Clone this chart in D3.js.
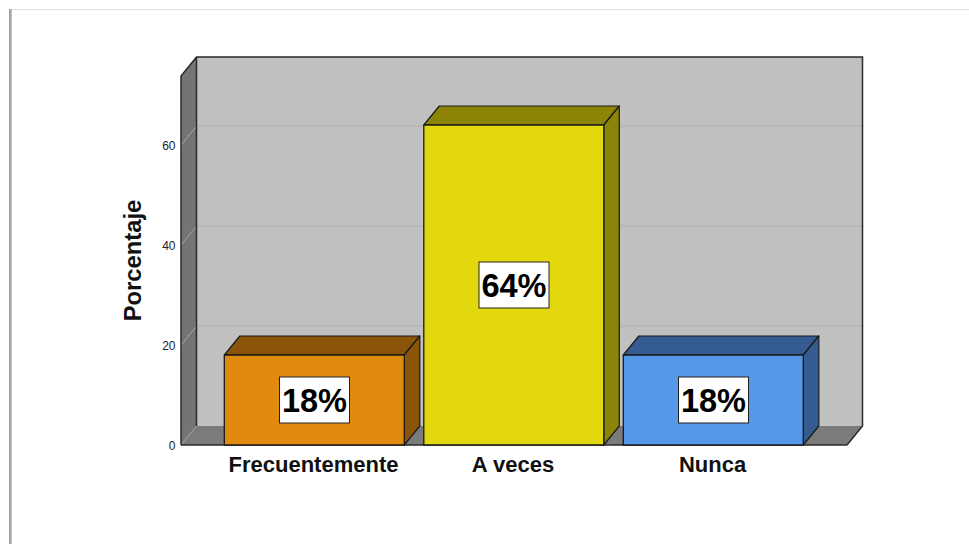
<!DOCTYPE html>
<html><head><meta charset="utf-8">
<script src="https://cdn.jsdelivr.net/npm/d3@7"></script>
<style>html,body{margin:0;padding:0;background:#fff}svg{display:block}text{font-family:"Liberation Sans",Arial,sans-serif}</style>
</head><body><svg id="c" width="969" height="544"></svg>
<script>
const categories = ["Frecuentemente","A veces","Nunca"];
const values = [18,64,18];
const labels = ["18%","64%","18%"];
const frontColors = ["#e08a10","#e3d80d","#5598e8"];
const sideColors = ["#8a5509","#8c8407","#345c91"];
const yTicks = [0,20,40,60];

const W=969,H=544;
const dx=15.5, dy=-19;
const x0=181, x1=847;
const svg=d3.select("#c");
const y=d3.scaleLinear().domain([0,73.8]).range([445,76]);
const x=d3.scalePoint().domain(categories).range([314,713]);
const barW=180;
const edge="#1a1a1a";
const poly=(pts,fill,stroke,sw)=>svg.append("path").attr("d",d3.line()(pts)+"Z").attr("fill",fill).attr("stroke",stroke||"none").attr("stroke-width",sw||0).attr("stroke-linejoin","round");

// page frame
svg.append("rect").attr("x",9).attr("y",9).attr("width",960).attr("height",1.2).attr("fill","#e6e6e6");
svg.append("rect").attr("x",9).attr("y",9).attr("width",2.6).attr("height",535).attr("fill","#a3a3a3");

const yTop=y(73.8), yBot=y(0);
// back wall
poly([[x0+dx,yTop+dy],[x1+dx,yTop+dy],[x1+dx,yBot+dy],[x0+dx,yBot+dy]],"#c0c0c0");
// floor
poly([[x0,yBot],[x1,yBot],[x1+dx,yBot+dy],[x0+dx,yBot+dy]],"#7b7b7b");
// left wall
poly([[x0,yTop],[x0+dx,yTop+dy],[x0+dx,yBot+dy],[x0,yBot]],"#747474");

// gridlines
yTicks.filter(d=>d>0).forEach(d=>{
  svg.append("line").attr("x1",x0+dx).attr("x2",x1+dx).attr("y1",y(d)+dy).attr("y2",y(d)+dy).attr("stroke","#b0b0b0").attr("stroke-width",1.2);
  svg.append("line").attr("x1",x0).attr("x2",x0+dx).attr("y1",y(d)).attr("y2",y(d)+dy).attr("stroke","#a6a6a6").attr("stroke-width",1);
});
svg.append("line").attr("x1",x0).attr("x2",x0+dx).attr("y1",y(0)).attr("y2",y(0)+dy).attr("stroke","#a0a0a0").attr("stroke-width",1);

// frame edges
const frame=d3.path();
frame.moveTo(x0,yBot);frame.lineTo(x0,yTop);frame.lineTo(x0+dx,yTop+dy);frame.lineTo(x1+dx,yTop+dy);frame.lineTo(x1+dx,yBot+dy);frame.lineTo(x1,yBot);
frame.moveTo(x0+dx,yTop+dy);frame.lineTo(x0+dx,yBot+dy);
frame.moveTo(x0,yBot);frame.lineTo(x1,yBot);
svg.append("path").attr("d",frame.toString()).attr("fill","none").attr("stroke","#2a2a2a").attr("stroke-width",1.5);

// bars
categories.forEach((c,i)=>{
  const l=x(c)-barW/2+0.3, r=l+barW, t=y(values[i]), b=y(0);
  poly([[l,t],[l+dx,t+dy],[r+dx,t+dy],[r,t]],sideColors[i],edge,1.2);
  poly([[r,t],[r+dx,t+dy],[r+dx,b+dy],[r,b]],sideColors[i],edge,1.2);
  poly([[l,t],[r,t],[r,b],[l,b]],frontColors[i],edge,1.3);
});

// value labels
categories.forEach((c,i)=>{
  const cy=y(values[i]/2);
  svg.append("rect").attr("x",x(c)-34.5).attr("y",cy-23).attr("width",70).attr("height",46).attr("fill","#fff").attr("stroke","#222").attr("stroke-width",1);
  svg.append("text").attr("x",x(c)+0.5).attr("y",cy+12).attr("text-anchor","middle").attr("font-size",32.5).attr("font-weight","bold").attr("fill","#000").text(labels[i]);
});

// y tick labels
yTicks.forEach(d=>{
  svg.append("text").attr("x",175.5).attr("y",y(d)+5).attr("text-anchor","end").attr("font-size",12).attr("fill","#222").text(d);
});
// category labels
categories.forEach(c=>{
  svg.append("text").attr("x",x(c)-0.5).attr("y",472).attr("text-anchor","middle").attr("font-size",22).attr("font-weight","bold").attr("fill","#111").text(c);
});
// axis title
svg.append("text").attr("transform","translate(141,260.5) rotate(-90)").attr("text-anchor","middle").attr("font-size",23.8).attr("font-weight","bold").attr("fill","#111").text("Porcentaje");
</script></body></html>
